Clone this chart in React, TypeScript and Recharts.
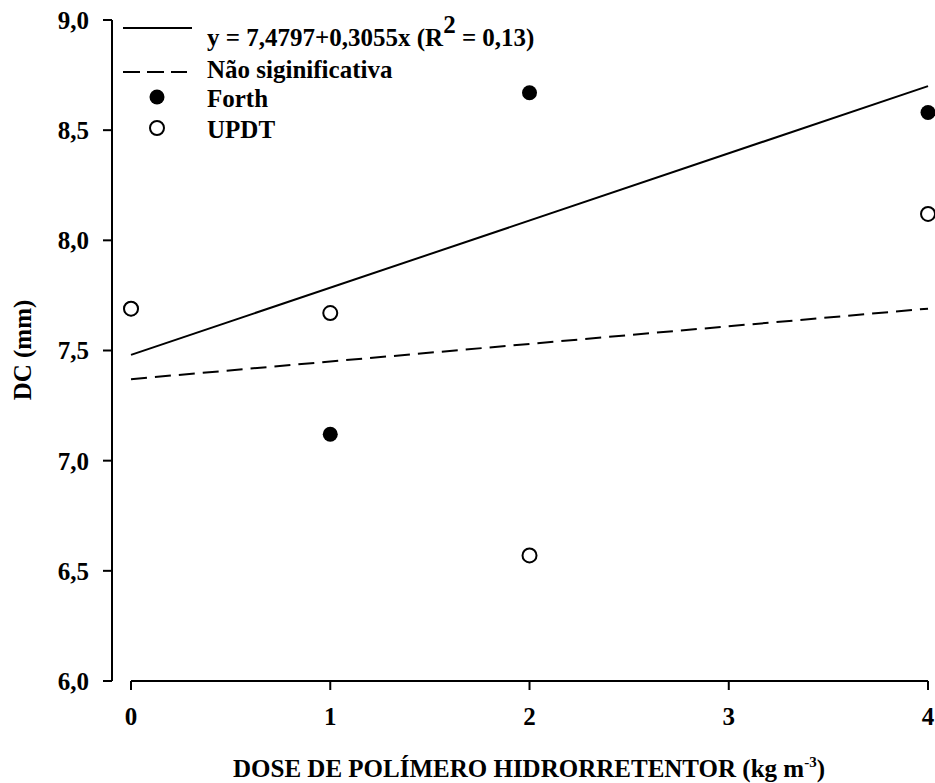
import { ComposedChart, Line, Scatter, XAxis, YAxis, ReferenceLine, Legend } from "recharts"

// tick labels
const doseTicks = [0, 1, 2, 3, 4]
const dcTicks = [6, 6.5, 7, 7.5, 8, 8.5, 9]

// observed points (Forth at dose 0 sits under the UPDT circle)
const forthDose = [0, 1, 2, 4]
const forthDc = [7.69, 7.12, 8.67, 8.58]
const updtDose = [0, 1, 2, 4]
const updtDc = [7.69, 7.67, 6.57, 8.12]

// fitted line ends
const fitDose = [0, 4]
const fitForth = [7.48, 8.7]
const fitUpdt = [7.37, 7.69]

const toPoints = (xs: number[], ys: number[]) => xs.map((x, i) => ({ x, y: ys[i] }))

const forthData = toPoints(forthDose, forthDc)
const updtData = toPoints(updtDose, updtDc)
const fitForthData = toPoints(fitDose, fitForth)
const fitUpdtData = toPoints(fitDose, fitUpdt)

const FONT = "'Liberation Serif', 'Times New Roman', serif"
const textStyle = { fontFamily: FONT, fontWeight: "bold" as const, fontSize: 25, fill: "#000" }

const fmt = (v: number) => v.toFixed(1).replace(".", ",")

const FilledDot = (p: any) => <circle cx={p.cx} cy={p.cy} r={7.5} fill="#000" />
const OpenDot = (p: any) => <circle cx={p.cx} cy={p.cy} r={7} fill="#fff" stroke="#000" strokeWidth={2} />

function LegendBox() {
  return (
    <svg width={460} height={140} style={{ display: "block", overflow: "visible" }}>
      <line x1={13} y1={18} x2={82} y2={18} stroke="#000" strokeWidth={2} />
      <text x={97} y={36} {...textStyle}>
        y = 7,4797+0,3055x (R<tspan dy={-13}>2</tspan>
        <tspan dy={13}> = 0,13)</tspan>
      </text>
      <line x1={13} y1={62} x2={77} y2={62} stroke="#000" strokeWidth={2} strokeDasharray="17 7" />
      <text x={97} y={68} {...textStyle}>Não siginificativa</text>
      <circle cx={47} cy={87} r={7.5} fill="#000" />
      <text x={97} y={97} {...textStyle}>Forth</text>
      <circle cx={47} cy={118} r={7} fill="#fff" stroke="#000" strokeWidth={2} />
      <text x={97} y={128} {...textStyle}>UPDT</text>
    </svg>
  )
}

function XTitle() {
  return (
    <text x={529} y={777} textAnchor="middle" {...textStyle}>
      DOSE DE POLÍMERO HIDRORRETENTOR (kg m<tspan dy={-10} fontSize={15}>-3</tspan>
      <tspan dy={10}>)</tspan>
    </text>
  )
}

function YTitle() {
  return (
    <text x={31} y={350} textAnchor="middle" transform="rotate(-90 31 350)" {...textStyle}>
      DC (mm)
    </text>
  )
}

export default function App() {
  return (
    <div style={{ position: "absolute", left: 0, top: 0, background: "#fff" }}>
      <ComposedChart width={935} height={783} margin={{ top: 20, right: 0, bottom: 0, left: 0 }}>
        <XAxis
          type="number"
          dataKey="x"
          domain={[-0.0954, 4.035]}
          allowDataOverflow
          ticks={doseTicks}
          axisLine={false}
          tickLine={{ stroke: "#000", strokeWidth: 2 }}
          tickSize={9}
          tickMargin={17}
          tick={textStyle}
          height={102}
          label={<XTitle />}
        />
        <YAxis
          type="number"
          dataKey="y"
          domain={[6, 9]}
          ticks={dcTicks}
          tickFormatter={fmt}
          axisLine={{ stroke: "#000", strokeWidth: 2 }}
          tickLine={{ stroke: "#000", strokeWidth: 2 }}
          tickSize={9}
          tickMargin={14}
          tick={textStyle}
          width={112}
          label={<YTitle />}
        />
        <ReferenceLine
          segment={[{ x: 0, y: 6 }, { x: 4, y: 6 }]}
          stroke="#000"
          strokeWidth={2}
          ifOverflow="visible"
        />
        <Line data={fitForthData} dataKey="y" stroke="#000" strokeWidth={2} dot={false} isAnimationActive={false} legendType="none" />
        <Line data={fitUpdtData} dataKey="y" stroke="#000" strokeWidth={2} strokeDasharray="16 8" dot={false} isAnimationActive={false} legendType="none" />
        <Scatter data={forthData} dataKey="y" shape={FilledDot} isAnimationActive={false} />
        <Scatter data={updtData} dataKey="y" shape={OpenDot} isAnimationActive={false} />
        <Legend
          layout="horizontal"
          verticalAlign="middle"
          align="center"
          content={() => <LegendBox />}
          wrapperStyle={{ position: "absolute", left: 110, top: 10, width: 460, height: 140 }}
        />
      </ComposedChart>
    </div>
  )
}
